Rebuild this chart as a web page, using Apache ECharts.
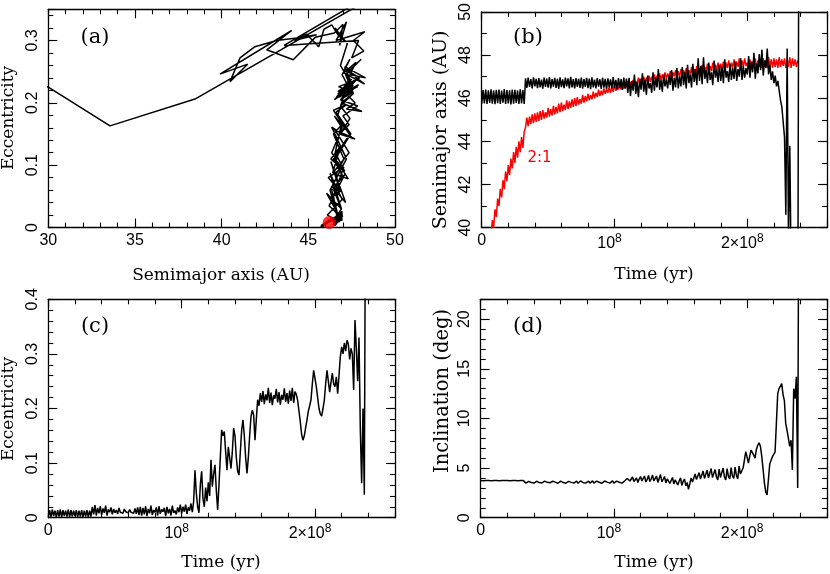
<!DOCTYPE html>
<html>
<head>
<meta charset="utf-8">
<script src="https://cdn.jsdelivr.net/npm/echarts@6/dist/echarts.min.js"></script>
<style>html,body{margin:0;padding:0;background:#fff}#chart{width:830px;height:574px}</style>
</head>
<body>
<div id="chart"></div>
<script>
// ---------------- DATA ----------------
// Simulation output sampled every 1 Myr; index 0 = t 0.
const T_STEP_MYR = 1;

// (b) semimajor axis of the object (black), AU, t = 0..239 Myr
const B_SEMI_OBJECT = [
45.74,46.38,45.76,46.40,45.73,46.37,45.78,46.41,45.75,46.36,
45.72,46.39,45.77,46.40,45.74,46.35,45.79,46.42,45.73,46.38,
45.76,46.37,45.71,46.40,45.75,46.39,45.78,46.36,45.74,46.41,
45.76,46.38,45.73,46.92,46.48,46.95,46.52,46.88,46.45,46.97,
46.55,46.90,46.47,46.93,46.50,46.86,46.44,46.96,46.53,46.91,
46.49,46.98,46.46,46.89,46.54,46.94,46.48,46.90,46.43,46.97,
46.51,46.87,46.47,46.95,46.55,46.92,46.46,46.99,46.50,46.88,
46.45,46.93,46.52,46.90,46.48,46.96,46.44,46.89,46.53,46.94,
46.47,46.91,46.42,46.97,46.50,46.86,46.46,46.93,46.54,46.88,
46.43,46.95,46.49,46.90,46.41,46.92,46.52,46.87,46.45,46.98,
46.48,46.85,46.40,46.93,46.47,46.89,46.38,46.96,46.44,46.91,
46.25,46.95,46.10,46.80,46.35,47.10,46.20,46.75,46.05,46.90,
46.40,47.15,46.30,46.85,46.15,47.05,46.45,46.70,46.25,47.20,
46.35,46.95,46.50,47.35,46.40,46.85,46.30,47.10,46.55,46.90,
46.45,47.05,46.60,47.30,46.35,46.95,46.50,47.40,46.45,47.00,
46.55,47.45,46.60,47.20,46.45,47.55,46.70,47.10,46.50,47.60,
46.75,47.35,46.60,47.85,46.80,47.50,46.65,47.90,46.90,47.30,
46.70,47.65,46.85,47.20,46.60,47.75,46.95,47.35,46.75,47.55,
46.80,47.45,46.70,47.80,46.95,47.25,46.75,47.60,46.85,47.40,
46.90,47.70,46.80,47.35,47.00,47.85,46.85,47.50,46.95,47.40,
47.10,47.95,46.95,47.70,47.20,48.10,46.90,47.60,47.15,48.05,
47.30,48.25,47.05,47.75,47.40,48.30,47.10,47.55,46.85,47.25,
46.70,47.05,46.55,46.80,46.35,45.90,45.60,44.90,44.20,40.60,
48.30,39.50,43.80,38.00,37.00,36.50,36.00,35.50,35.00,60.00
];

// (b) location of the 2:1 resonance (red), AU, starting at t = 7 Myr
const B_RES_START_MYR = 7;
const B_SEMI_RESONANCE = [
39.50,40.35,40.00,
40.85,40.50,41.35,41.00,41.80,41.40,42.20,41.80,42.60,42.15,
42.90,42.45,43.20,42.75,43.50,43.00,43.75,43.25,44.00,43.50,
44.20,43.70,44.45,44.65,45.10,44.70,45.15,44.80,45.25,44.85,
45.30,44.90,45.35,44.95,45.40,45.00,45.45,45.05,45.35,45.10,
45.55,45.15,45.50,45.20,45.65,45.25,45.60,45.30,45.75,45.35,
45.80,45.40,45.70,45.45,45.90,45.50,45.85,45.55,45.95,45.60,
46.00,45.65,46.05,45.70,45.95,45.75,46.15,45.80,46.10,45.85,
46.20,45.90,46.15,45.95,46.30,46.00,46.25,46.05,46.40,46.10,
46.35,46.15,46.45,46.20,46.40,46.25,46.55,46.25,46.50,46.30,
46.60,46.35,46.55,46.40,46.65,46.40,46.70,46.45,46.65,46.50,
46.80,46.50,46.75,46.55,46.85,46.60,46.80,46.65,46.95,46.65,
46.90,46.70,47.00,46.70,46.95,46.75,47.05,46.75,47.00,46.80,
47.10,46.80,47.05,46.85,47.15,46.85,47.10,46.90,47.20,46.90,
47.15,46.95,47.25,46.90,47.20,47.00,47.30,46.95,47.25,47.00,
47.35,47.00,47.30,47.05,47.40,47.05,47.30,47.10,47.45,47.05,
47.35,47.15,47.50,47.10,47.40,47.20,47.55,47.15,47.45,47.25,
47.60,47.20,47.50,47.25,47.65,47.25,47.55,47.30,47.65,47.30,
47.60,47.35,47.70,47.30,47.65,47.40,47.75,47.35,47.65,47.40,
47.80,47.40,47.70,47.45,47.85,47.40,47.75,47.45,47.85,47.50,
47.65,47.35,47.80,47.40,47.70,47.40,47.85,47.35,47.75,47.45,
47.80,47.40,47.85,47.45,47.75,47.40,47.90,47.45,47.80,47.40,
47.85,47.45,47.80,47.40,47.90,47.45,47.80,47.50,47.85,47.40,
47.80,47.45,47.90,47.40,47.85,47.50,47.80,47.45,47.75
];

// (c) eccentricity, t = 0..238 Myr
const C_ECCENTRICITY = [
0.002,0.014,0.001,0.015,0.003,0.013,0.001,0.014,0.002,0.015,
0.001,0.014,0.003,0.013,0.002,0.015,0.001,0.014,0.002,0.013,
0.003,0.014,0.001,0.013,0.002,0.014,0.001,0.013,0.002,0.014,
0.001,0.013,0.002,0.020,0.006,0.023,0.004,0.018,0.008,0.021,
0.005,0.017,0.009,0.022,0.004,0.015,0.010,0.019,0.006,0.016,
0.009,0.014,0.007,0.018,0.010,0.013,0.008,0.016,0.011,0.012,
0.009,0.015,0.010,0.013,0.008,0.017,0.007,0.019,0.005,0.020,
0.004,0.018,0.006,0.021,0.003,0.016,0.008,0.022,0.005,0.014,
0.010,0.019,0.004,0.021,0.007,0.015,0.011,0.018,0.003,0.020,
0.008,0.016,0.004,0.022,0.009,0.013,0.006,0.019,0.010,0.024,
0.008,0.020,0.011,0.024,0.007,0.019,0.013,0.026,0.010,0.030,
0.087,0.045,0.020,0.009,0.060,0.085,0.035,0.020,0.055,0.030,
0.065,0.040,0.106,0.057,0.080,0.097,0.050,0.014,0.060,0.110,
0.161,0.150,0.158,0.120,0.087,0.130,0.110,0.090,0.120,0.164,
0.150,0.110,0.085,0.078,0.120,0.160,0.179,0.150,0.110,0.081,
0.110,0.150,0.185,0.197,0.188,0.142,0.180,0.216,0.205,0.228,
0.212,0.232,0.208,0.226,0.215,0.238,0.210,0.229,0.206,0.224,
0.218,0.236,0.211,0.230,0.207,0.225,0.216,0.237,0.212,0.228,
0.209,0.233,0.214,0.238,0.210,0.231,0.226,0.215,0.195,0.175,
0.152,0.142,0.150,0.165,0.179,0.195,0.205,0.216,0.245,0.270,
0.255,0.240,0.220,0.200,0.190,0.186,0.200,0.215,0.245,0.270,
0.250,0.230,0.248,0.265,0.245,0.240,0.258,0.227,0.260,0.295,
0.313,0.300,0.320,0.305,0.325,0.318,0.290,0.310,0.300,0.234,
0.362,0.310,0.250,0.330,0.160,0.063,0.200,0.042,0.700
];

// (d) inclination, deg, t = 0..239 Myr
const D_INCLINATION = [
3.74,3.86,3.73,3.87,3.75,3.85,3.74,3.86,3.73,3.87,
3.75,3.86,3.74,3.85,3.73,3.87,3.74,3.86,3.75,3.85,
3.74,3.87,3.73,3.86,3.75,3.85,3.74,3.87,3.73,3.86,
3.75,3.86,3.74,3.62,3.48,3.60,3.66,3.50,3.55,3.68,
3.49,3.58,3.67,3.51,3.54,3.69,3.50,3.57,3.68,3.48,
3.56,3.70,3.52,3.53,3.67,3.49,3.58,3.69,3.47,3.55,
3.68,3.51,3.54,3.70,3.48,3.59,3.66,3.50,3.56,3.69,
3.49,3.57,3.68,3.47,3.55,3.70,3.52,3.53,3.67,3.50,
3.58,3.69,3.48,3.56,3.71,3.49,3.54,3.68,3.51,3.57,
3.70,3.47,3.55,3.69,3.50,3.58,3.67,3.48,3.56,3.71,
3.49,3.54,3.68,3.52,3.57,3.70,3.48,3.56,3.69,3.50,
3.95,4.05,3.70,3.85,4.10,3.65,3.80,4.00,3.55,3.90,
4.15,3.70,3.75,4.20,3.60,3.85,4.25,3.65,3.90,4.30,
3.70,3.80,4.20,3.55,3.95,4.35,3.60,3.85,4.15,3.50,
3.90,4.10,3.45,3.75,4.05,3.40,3.80,3.95,3.30,3.70,
4.00,3.25,3.65,3.90,3.20,3.55,2.86,3.40,4.00,3.60,
3.70,4.40,3.85,3.65,4.55,3.90,3.70,4.70,3.95,3.75,
4.80,4.00,3.80,4.95,4.05,3.85,4.85,4.10,3.80,4.90,
4.05,3.85,5.00,4.10,3.80,4.95,4.15,3.90,5.05,4.20,
3.95,5.10,4.25,3.90,5.20,4.40,4.20,5.00,5.80,6.65,
6.10,5.50,6.20,6.80,7.00,6.30,6.00,6.90,7.30,7.55,
7.20,6.20,4.90,3.50,2.60,2.30,3.80,5.40,5.60,6.15,
6.00,6.60,9.50,12.50,13.00,12.80,13.50,12.40,11.80,9.50,
8.80,8.60,7.20,7.80,4.80,13.00,12.00,14.20,3.00,40.00
];

// (a) the e–a track uses (b) and (c) up to t = 228 Myr, then these late points
const A_TRACK_END_MYR = 228;
const A_TAIL_SEMI = [45.48,44.33,43.17,41.92,41.06,40.48,41.50,39.90,44.04,42.60,44.13,45.40,46.50,47.00,46.80,47.20,46.60,48.26,47.60,48.20,47.50,47.90,43.60,48.50,48.50,38.46,33.56,30.00,27.00];
const A_TAIL_ECC  = [0.309,0.304,0.300,0.290,0.272,0.234,0.262,0.246,0.316,0.285,0.269,0.305,0.312,0.326,0.292,0.330,0.300,0.314,0.300,0.283,0.272,0.300,0.292,0.372,0.366,0.206,0.163,0.225,0.260];
const A_START = [46.2, 0.008]; // red dot: initial position

// tick labels
const A_X_TICKS = [30, 35, 40, 45, 50];
const A_Y_TICKS = [0, 0.1, 0.2, 0.3];
const B_Y_TICKS = [40, 42, 44, 46, 48, 50];
const C_Y_TICKS = [0, 0.1, 0.2, 0.3, 0.4];
const D_Y_TICKS = [0, 5, 10, 15, 20];
const TIME_TICKS_MYR = [0, 100, 200];
const TIME_TICK_LABELS = ['0', '{n|10}{s|8}', '{n|2×10}{s|8}'];

// ---------------- CHART ----------------
const SANS = "'Liberation Sans', Arial, Helvetica, sans-serif";
const SERIF = "'DejaVu Serif', serif";
const INK = '#000';
const LW = 1.5;

function timeSeries(values, startMyr) {
  return values.map((v, i) => [startMyr + i * T_STEP_MYR, v]);
}
function labelFromList(list, labels) {
  return function (v) {
    for (let i = 0; i < list.length; i++) {
      if (Math.abs(v - list[i]) < 1e-6 * Math.max(1, Math.abs(list[i]))) return labels ? labels[i] : String(list[i]);
    }
    return '';
  };
}
const rich = {
  n: { fontSize: 16, fontFamily: SANS, color: INK, lineHeight: 22 },
  s: { fontSize: 12, fontFamily: SANS, color: INK, verticalAlign: 'top', padding: [0, 10, 0, 0] }
};

const xAxes = [], yAxes = [];
function addAxes(g, dim, min, max, major, minor, formatter) {
  const list = dim === 'x' ? xAxes : yAxes;
  const sides = dim === 'x' ? ['bottom', 'top'] : ['left', 'right'];
  const start = list.length;
  sides.forEach((pos, si) => {
    [major, minor].forEach((iv, k) => {
      list.push({
        type: 'value', gridIndex: g, position: pos, offset: 0,
        min: min, max: max, interval: iv,
        splitLine: { show: false },
        axisLine: { show: k === 0, onZero: false, lineStyle: { color: INK, width: 1.3 } },
        axisTick: { show: true, inside: true, length: k === 0 ? 9 : 5, lineStyle: { color: INK, width: 1.1 } },
        axisLabel: (si === 0 && k === 0) ? {
          show: true, formatter: formatter, color: INK, fontSize: 16, fontFamily: SANS,
          margin: dim === 'x' ? 5 : 8, rotate: dim === 'y' ? 90 : 0, rich: rich,
          showMinLabel: true, showMaxLabel: true, hideOverlap: false
        } : { show: false }
      });
    });
  });
  return start;
}

const grids = [
  { left: 48.3, top: 9.3, width: 346.7, height: 218.2 },
  { left: 481.7, top: 9.3, width: 346.6, height: 218.4 },
  { left: 48.3, top: 299.3, width: 346.7, height: 218.4 },
  { left: 480.7, top: 299.3, width: 347.0, height: 218.4 }
];

const timeFmt = labelFromList(TIME_TICKS_MYR, TIME_TICK_LABELS);
const ax = [];
ax.push([addAxes(0, 'x', 30, 50, 5, 1, labelFromList(A_X_TICKS)), addAxes(0, 'y', 0, 0.35, 0.1, 0.02, labelFromList(A_Y_TICKS))]);
ax.push([addAxes(1, 'x', 0, 260, 100, 20, timeFmt), addAxes(1, 'y', 40, 50, 2, 1, labelFromList(B_Y_TICKS))]);
ax.push([addAxes(2, 'x', 0, 260, 100, 20, timeFmt), addAxes(2, 'y', 0, 0.4, 0.1, 0.02, labelFromList(C_Y_TICKS))]);
ax.push([addAxes(3, 'x', 0, 260, 100, 20, timeFmt), addAxes(3, 'y', 0, 22, 5, 1, labelFromList(D_Y_TICKS))]);

// (a) track
const trackA = [];
for (let t = 0; t <= A_TRACK_END_MYR; t++) trackA.push([B_SEMI_OBJECT[t], C_ECCENTRICITY[t]]);
for (let i = 0; i < A_TAIL_SEMI.length; i++) trackA.push([A_TAIL_SEMI[i], A_TAIL_ECC[i]]);

const lineBase = { type: 'line', showSymbol: false, symbol: 'none', clip: true, animation: false, silent: true };
const series = [
  Object.assign({}, lineBase, { xAxisIndex: ax[0][0], yAxisIndex: ax[0][1], data: trackA, lineStyle: { color: INK, width: LW } }),
  { type: 'scatter', xAxisIndex: ax[0][0], yAxisIndex: ax[0][1], data: [A_START], symbolSize: 13, itemStyle: { color: '#ff0000' }, silent: true, z: 5 },
  Object.assign({}, lineBase, { xAxisIndex: ax[1][0], yAxisIndex: ax[1][1], data: timeSeries(B_SEMI_RESONANCE, B_RES_START_MYR), lineStyle: { color: '#ff0000', width: LW } }),
  Object.assign({}, lineBase, { xAxisIndex: ax[1][0], yAxisIndex: ax[1][1], data: timeSeries(B_SEMI_OBJECT, 0), lineStyle: { color: INK, width: LW } }),
  Object.assign({}, lineBase, { xAxisIndex: ax[2][0], yAxisIndex: ax[2][1], data: timeSeries(C_ECCENTRICITY, 0), lineStyle: { color: INK, width: LW } }),
  Object.assign({}, lineBase, { xAxisIndex: ax[3][0], yAxisIndex: ax[3][1], data: timeSeries(D_INCLINATION, 0), lineStyle: { color: INK, width: LW } })
];

function txt(text, x, y, size, opts) {
  opts = opts || {};
  return {
    type: 'text', x: x, y: y, rotation: opts.rot || 0, silent: true, z: 10,
    style: {
      text: text, fill: opts.color || INK, fontSize: size, fontFamily: opts.family || SERIF,
      align: 'center', verticalAlign: 'middle', textAlign: 'center', textVerticalAlign: 'middle'
    }
  };
}
const R = Math.PI / 2;
const graphics = [
  txt('(a)', 95, 37.5, 21), txt('(b)', 528, 37.5, 21), txt('(c)', 95, 327, 21), txt('(d)', 528, 327, 21),
  txt('Semimajor axis (AU)', 221, 276, 17),
  txt('Time (yr)', 654, 275, 17),
  txt('Time (yr)', 221, 563, 17),
  txt('Time (yr)', 654, 563, 17),
  txt('Eccentricity', 9, 118, 17, { rot: R }),
  txt('Eccentricity', 9, 409, 17, { rot: R }),
  txt('Semimajor axis (AU)', 441.5, 130, 19, { rot: R }),
  txt('Inclination (deg)', 442.5, 391, 19.5, { rot: R }),
  txt('2:1', 539.5, 158, 15, { color: '#ff0000', family: "'DejaVu Sans', sans-serif" })
];

const chart = echarts.init(document.getElementById('chart'), null, { renderer: 'canvas' });
chart.setOption({
  animation: false,
  backgroundColor: '#fff',
  grid: grids,
  xAxis: xAxes,
  yAxis: yAxes,
  series: series,
  graphic: graphics
});
</script>
</body>
</html>
